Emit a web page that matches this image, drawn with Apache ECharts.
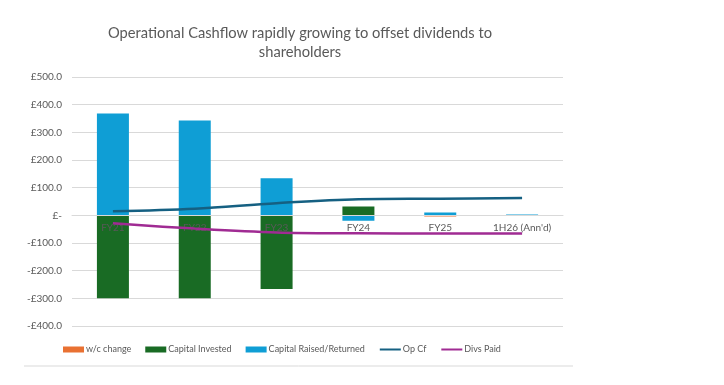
<!DOCTYPE html>
<html><head><meta charset="utf-8">
<script src="https://cdn.jsdelivr.net/npm/echarts@6/dist/echarts.min.js"></script>
<style>html,body{margin:0;padding:0;background:#fff}#c{width:724px;height:385px}</style>
</head><body><div id="c"></div>
<script>
const categories = ['FY21','FY22','FY23','FY24','FY25',"1H26 (Ann'd)"];
const wcChange = [0, 0, 0, 0, -4, 0];
const capitalInvested = [-300, -300, -266, 32, 0, 0];
const capitalRaised = [368, 343, 134, -20, 10, 3];
const opCf = [15, 24, 44, 58, 60, 63];
const divsPaid = [-29, -48, -62, -65, -66, -66];
const yTicks = {min: -400, max: 500, interval: 100};

const FONT = 'Lato';
const GREY = '#595959';
const chart = echarts.init(document.getElementById('c'));
chart.setOption({
  animation: false,
  textStyle: {fontFamily: FONT},
  title: {
    text: 'Operational Cashflow rapidly growing to offset dividends to\nshareholders',
    left: 295, top: 19, textAlign: 'center',
    textStyle: {fontFamily: FONT, fontSize: 14.7, fontWeight: 'normal', color: GREY, lineHeight: 19}
  },
  grid: {left: 72, right: 161, top: 77, bottom: 59},
  legend: {
    left: 63, top: 345, padding: 0,
    itemWidth: 21, itemHeight: 6, itemGap: 14,
    textStyle: {fontFamily: FONT, fontSize: 9, color: GREY, padding: [0, 0, 0, -3]},
    data: [
      {name: 'w/c change', icon: 'rect'},
      {name: 'Capital Invested', icon: 'rect'},
      {name: 'Capital Raised/Returned', icon: 'rect'},
      {name: 'Op Cf', itemStyle: {opacity: 0}},
      {name: 'Divs Paid', itemStyle: {opacity: 0}}
    ]
  },
  xAxis: {
    type: 'category', data: categories,
    offset: -111, z: 10,
    axisLine: {onZero: false, lineStyle: {color: '#d9d9d9'}},
    axisTick: {show: false},
    axisLabel: {color: GREY, fontSize: 10, margin: 8, fontFamily: FONT}
  },
  yAxis: {
    type: 'value', min: yTicks.min, max: yTicks.max, interval: yTicks.interval,
    axisLine: {show: false}, axisTick: {show: false},
    splitLine: {lineStyle: {color: '#d9d9d9', width: 1}},
    axisLabel: {
      color: GREY, fontSize: 10, margin: 10, fontFamily: FONT,
      formatter: v => v === 0 ? '£-' : (v < 0 ? '-£' + Math.abs(v).toFixed(1) : '£' + v.toFixed(1))
    }
  },
  series: [
    {name: 'w/c change', type: 'bar', stack: 'a', data: wcChange, barWidth: 32, itemStyle: {color: '#E97132'}},
    {name: 'Capital Invested', type: 'bar', stack: 'a', data: capitalInvested, barWidth: 32, itemStyle: {color: '#196B24'}},
    {name: 'Capital Raised/Returned', type: 'bar', stack: 'a', data: capitalRaised, barWidth: 32, itemStyle: {color: '#0F9ED5'}},
    {name: 'Op Cf', type: 'line', data: opCf, smooth: 0.35, symbol: 'none', showSymbol: false, lineStyle: {color: '#156082', width: 2.5}, itemStyle: {color: '#156082'}, z: 12},
    {name: 'Divs Paid', type: 'line', data: divsPaid, smooth: 0.35, symbol: 'none', showSymbol: false, lineStyle: {color: '#A02B93', width: 2.5}, itemStyle: {color: '#A02B93'}, z: 12}
  ],
  graphic: [
    {type: 'line', shape: {x1: 24, y1: 366, x2: 573, y2: 366}, style: {stroke: '#d9d9d9', lineWidth: 1}, silent: true}
  ]
});
</script></body></html>
